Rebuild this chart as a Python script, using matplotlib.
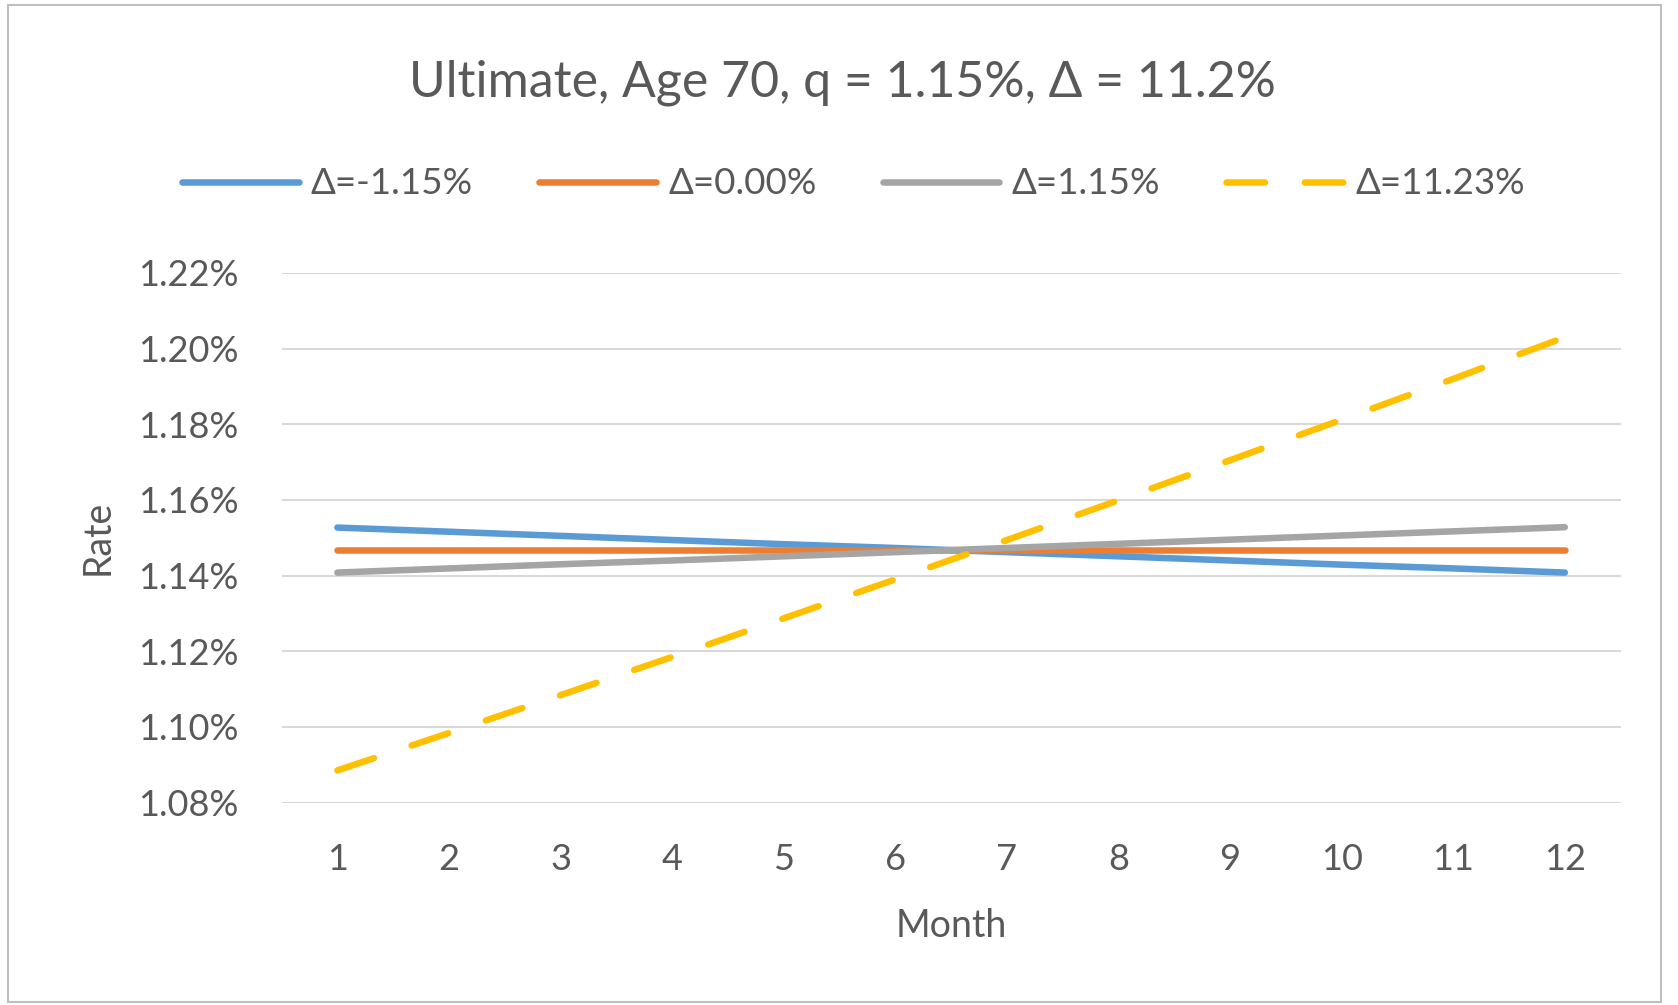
import numpy as np
import matplotlib.pyplot as plt
from matplotlib.patches import Rectangle

plt.rcParams['font.family'] = ['Lato', 'DejaVu Sans']

months = [1, 2, 3, 4, 5, 6, 7, 8, 9, 10, 11, 12]

# monthly rates in percent
rate_neg = [1.1527, 1.1516, 1.1505, 1.1494, 1.1483, 1.1473, 1.1462, 1.1451, 1.1440, 1.1429, 1.1419, 1.1408]
rate_zero = [1.1468, 1.1468, 1.1468, 1.1468, 1.1468, 1.1468, 1.1468, 1.1468, 1.1468, 1.1468, 1.1468, 1.1468]
rate_pos = [1.1408, 1.1419, 1.1430, 1.1440, 1.1451, 1.1462, 1.1473, 1.1484, 1.1495, 1.1506, 1.1517, 1.1528]
rate_big = [1.0885, 1.0984, 1.1084, 1.1185, 1.1287, 1.1390, 1.1494, 1.1599, 1.1705, 1.1812, 1.1920, 1.2030]

labels = ['Δ=-1.15%', 'Δ=0.00%', 'Δ=1.15%', 'Δ=11.23%']
yticks = [1.08, 1.10, 1.12, 1.14, 1.16, 1.18, 1.20, 1.22]

fig = plt.figure(figsize=(16.78, 10.05), dpi=100)
ax = fig.add_axes([0.1678, 0.2014, 0.798, 0.527])

lw = 4.7
ax.plot(months, rate_neg, color='#5B9BD5', lw=lw, solid_capstyle='round', label=labels[0])
ax.plot(months, rate_zero, color='#ED7D31', lw=lw, solid_capstyle='round', label=labels[1])
ax.plot(months, rate_pos, color='#A5A5A5', lw=lw, solid_capstyle='round', label=labels[2])
ax.plot(months, rate_big, color='#FFC000', lw=lw, dashes=(5.9, 6.1),
        dash_capstyle='round', label=labels[3])

ax.set_xlim(0.5, 12.5)
ax.set_ylim(1.08, 1.22)
ax.set_xticks(months)
ax.set_yticks(yticks)
ax.set_yticklabels(['%.2f%%' % v for v in yticks])
ax.grid(axis='y', color='#D9D9D9', lw=1.5)
ax.set_axisbelow(True)
for s in ax.spines.values():
    s.set_visible(False)
ax.tick_params(length=0, labelsize=26, colors='#595959')
ax.tick_params(axis='x', pad=29)
ax.tick_params(axis='y', pad=31)

ax.set_xlabel('Month', fontsize=27, color='#595959', labelpad=23)
ax.set_ylabel('Rate', fontsize=27, color='#595959', labelpad=16)

fig.text(0.502, 0.918, 'Ultimate, Age 70, q = 1.15%, Δ = 11.2%', ha='center', va='center',
         fontsize=36, color='#595959')

fig.legend(loc='center', bbox_to_anchor=(0.5086, 0.817), ncol=4, frameon=False,
           fontsize=26.5, handlelength=3.17, handletextpad=0.33, columnspacing=1.8,
           labelcolor='#595959')

fig.add_artist(Rectangle((0.005, 0.003), 0.985, 0.992, transform=fig.transFigure,
                         fill=False, ec='#BFBFBF', lw=1.5))

fig.savefig('out.png', dpi=100)
